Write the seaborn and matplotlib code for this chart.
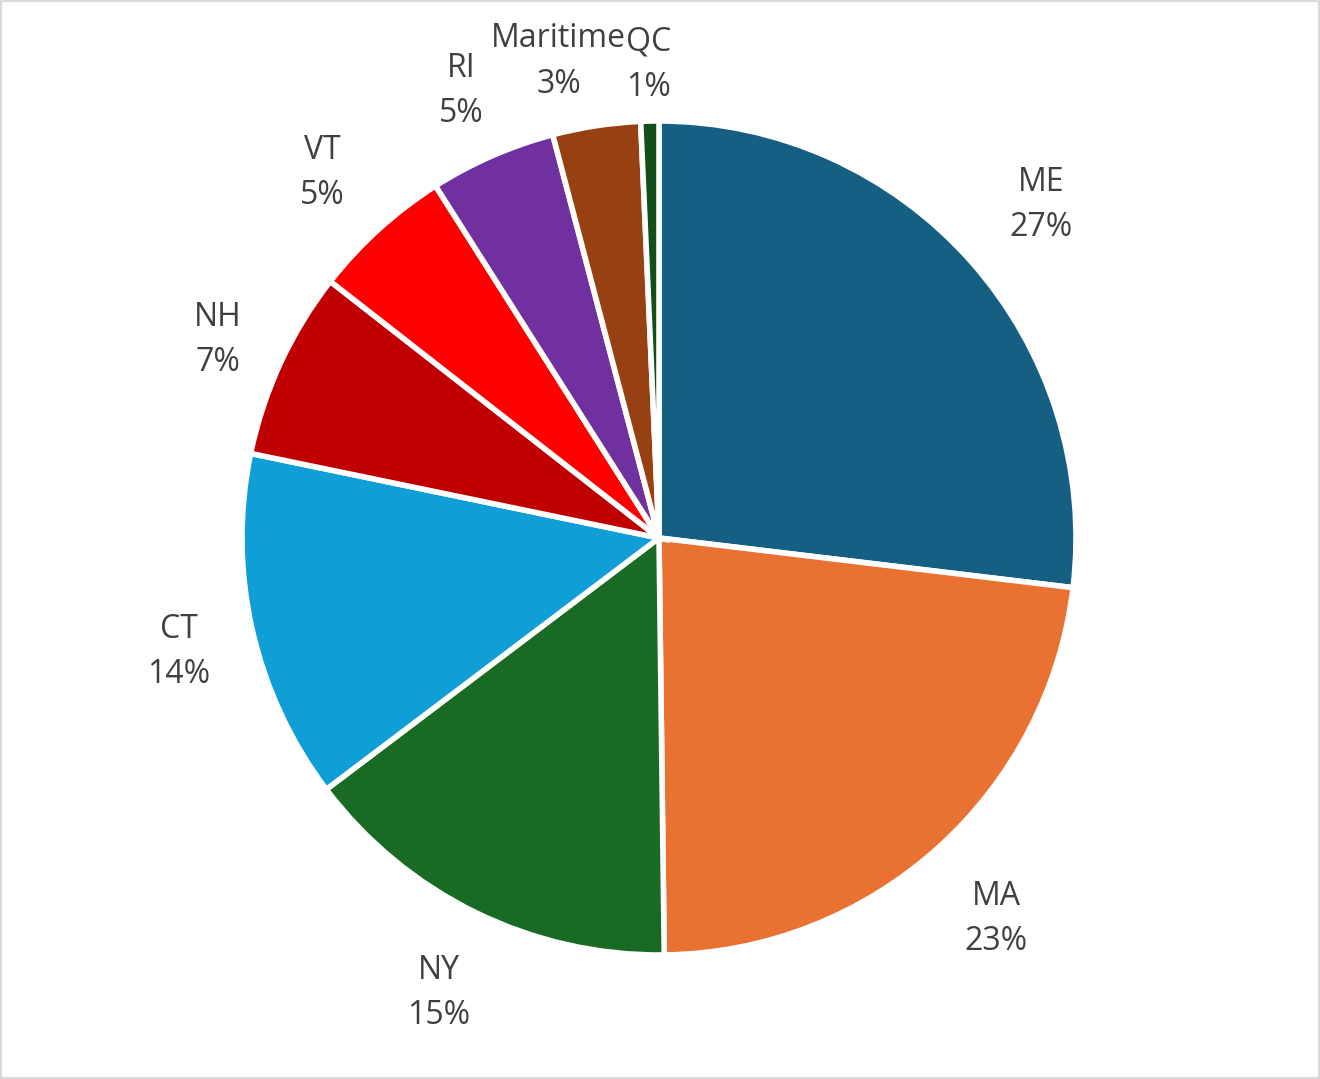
import matplotlib
matplotlib.use("Agg")
import numpy as np
import matplotlib.pyplot as plt
import seaborn as sns
from matplotlib.patches import Rectangle

# share of records per region (percent)
regions = ["ME", "MA", "NY", "CT", "NH", "VT", "RI", "Maritime", "QC"]
shares = [26.9, 22.9, 14.9, 13.55, 7.3, 5.45, 4.9, 3.4, 0.7]
colors = ["#156082", "#E97132", "#196B24", "#0F9ED5", "#C00000",
          "#FF0000", "#7030A0", "#974011", "#124F1B"]

sns.set_theme(style="white")
plt.rcParams["font.family"] = ["Open Sans", "DejaVu Sans"]

# two-line labels: name and rounded percent
total = sum(shares)
labels = [f"{name}\n{100 * v / total:.0f}%" for name, v in zip(regions, shares)]

fig = plt.figure(figsize=(13.2, 10.79), dpi=100)
ax = fig.add_axes([0, 0, 1, 1])

wedges, texts = ax.pie(shares, labels=labels, colors=colors, startangle=90,
                       counterclock=False, labeldistance=1.2,
                       wedgeprops={"linewidth": 4, "edgecolor": "white"},
                       textprops={"fontsize": 23, "color": "#404040",
                                  "linespacing": 1.5})

# label distance per slice (Excel nudges the crowded labels a little)
label_dist = [1.225, 1.21, 1.2, 1.18, 1.165, 1.2, 1.185, 1.17, 1.15]
for t, w, d in zip(texts, wedges, label_dist):
    mid = np.deg2rad((w.theta1 + w.theta2) / 2)
    t.set_position((d * np.cos(mid), d * np.sin(mid) - 0.014))
    t.set_ha("center")
# Maritime label sits a bit left of its slice
x, y = texts[7].get_position()
texts[7].set_position((x - 0.065, y))

# place the pie like the original: centre (659, 538) px, radius 417 px
r = 417
ax.set_xlim(-659 / r, (1320 - 659) / r)
ax.set_ylim(-(1079 - 538) / r, 538 / r)
ax.set_aspect("auto")
ax.axis("off")

# chart area border
fig.patches.append(Rectangle((0.001, 0.001), 0.998, 0.998, transform=fig.transFigure,
                             fill=False, edgecolor="#d9d9d9", linewidth=1.5))

fig.savefig("out.png", dpi=100)
